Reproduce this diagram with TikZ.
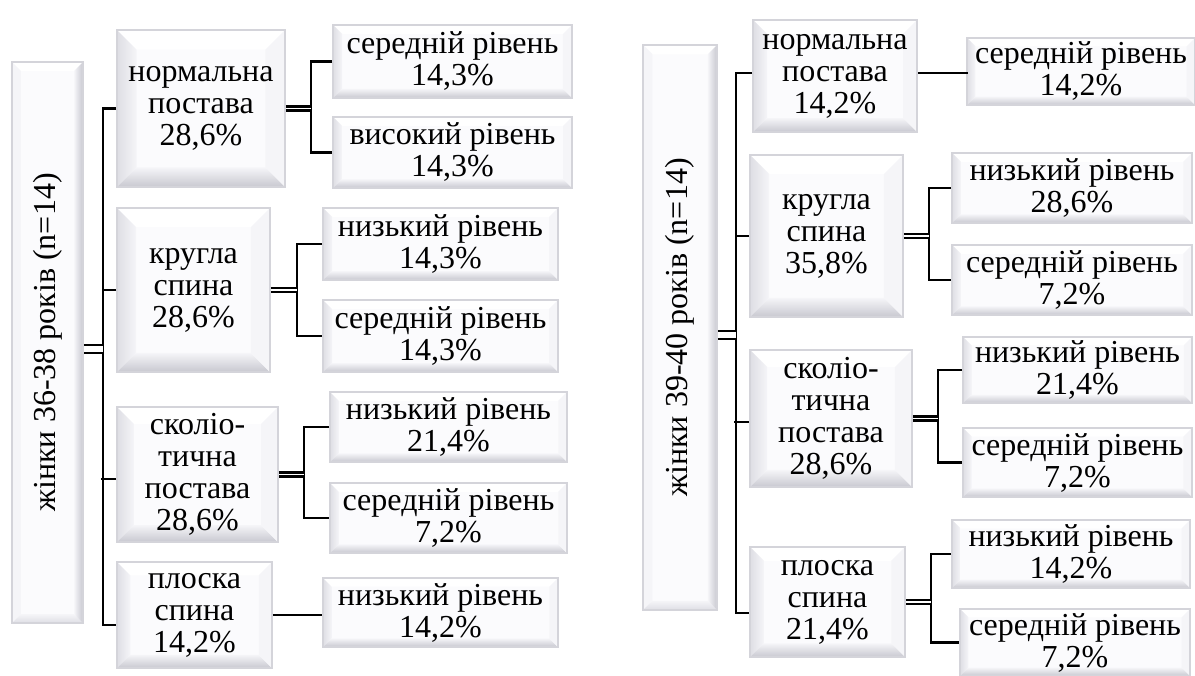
\documentclass[tikz,border=0pt]{standalone}
\usepackage{fontspec}
\setmainfont{Liberation Serif}
\usepackage{graphicx}
\usetikzlibrary{calc}

\definecolor{bvframe}{HTML}{D4D4DA}
\definecolor{bvface}{HTML}{FBFBFD}
\definecolor{bvdark}{HTML}{C8C8D0}
\definecolor{bvmid}{HTML}{DEDEE4}
\definecolor{bvlight}{HTML}{F5F5F8}

\tikzset{
  x=0.75pt, y=-0.75pt,
  boxbase/.style={draw=bvframe, line width=1.2pt, fill=bvface, inner sep=0pt,
    align=center, font=\fontsize{24}{24}\selectfont},
  % bevelled box: light top and left, shaded bottom
  bev/.style={boxbase, path picture={
    \path let \p1=(path picture bounding box.south west),
              \p2=(path picture bounding box.north east),
              \n1={0.125*min(\x2-\x1,\y2-\y1)} in
          coordinate (o1) at (\x1,\y1) coordinate (o2) at (\x2,\y2)
          coordinate (i1) at (\x1+\n1,\y1+\n1) coordinate (i2) at (\x2-\n1,\y2-\n1);
    \fill[white] (o1|-o2) -- (o2) -- (i2) -- (i1|-i2) -- cycle;
    \shade[left color=bvmid, right color=bvlight] (o1) -- (o1|-o2) -- (i1|-i2) -- (i1) -- cycle;
    \shade[top color=bvlight, bottom color=bvdark] (o1) -- (o2|-o1) -- (i2|-i1) -- (i1) -- cycle;
    \fill[bvlight] (o2|-o1) -- (o2) -- (i2) -- (i2|-i1) -- cycle;
  }},
  % upright box for the rotated group title: shaded right side
  rootbev/.style={boxbase, path picture={
    \path let \p1=(path picture bounding box.south west),
              \p2=(path picture bounding box.north east),
              \n1={0.125*min(\x2-\x1,\y2-\y1)} in
          coordinate (o1) at (\x1,\y1) coordinate (o2) at (\x2,\y2)
          coordinate (i1) at (\x1+\n1,\y1+\n1) coordinate (i2) at (\x2-\n1,\y2-\n1);
    \fill[white] (o1|-o2) -- (o2) -- (i2) -- (i1|-i2) -- cycle;
    \fill[bvlight] (o1) -- (o1|-o2) -- (i1|-i2) -- (i1) -- cycle;
    \shade[top color=bvlight, bottom color=bvmid] (o1) -- (o2|-o1) -- (i2|-i1) -- (i1) -- cycle;
    \shade[left color=bvlight, right color=bvdark] (o2|-o1) -- (o2) -- (i2) -- (i2|-i1) -- cycle;
  }},
  conn/.style={draw=black, line width=1.9pt},
  dbl/.style={draw=black, double=white, line width=1.7pt, double distance=1.4pt},
  dblroot/.style={draw=black, double=white, line width=1.9pt, double distance=4pt},
}

% box from pixel corners (x1,y1)-(x2,y2)
\newcommand\bvnode[7]{%
  \node[#1, minimum width={(#5-#3)*0.75pt}, minimum height={(#6-#4)*0.75pt}]
    (#2) at ({(#3+#5)/2},{(#4+#6)/2}) {#7};}

\begin{document}
\begin{tikzpicture}
\fill[white] (0,0) rectangle (1195,675);
\useasboundingbox (0,0) rectangle (1195,675);

% ---------- women 36-38 ----------
\bvnode{rootbev}{r1}{12}{62}{83}{623}{\rotatebox{90}{жінки 36-38 років (n=14)}}
\bvnode{bev}{A1}{117}{30}{285}{187}{нормальна\\постава\\28,6\%}
\bvnode{bev}{A2}{117}{208}{270}{372}{кругла\\спина\\28,6\%}
\bvnode{bev}{A3}{117}{407}{278}{542}{сколіо-\\тична\\постава\\28,6\%}
\bvnode{bev}{A4}{117}{562}{272}{668}{плоска\\спина\\14,2\%}

\bvnode{bev}{B1}{333}{25}{572}{98}{середній рівень\\14,3\%}
\bvnode{bev}{B2}{333}{117}{572}{188}{високий рівень\\14,3\%}
\bvnode{bev}{B3}{323}{208}{558}{280}{низький рівень\\14,3\%}
\bvnode{bev}{B4}{323}{300}{558}{372}{середній рівень\\14,3\%}
\bvnode{bev}{B5}{330}{392}{567}{462}{низький рівень\\21,4\%}
\bvnode{bev}{B6}{330}{483}{567}{553}{середній рівень\\7,2\%}
\bvnode{bev}{B7}{323}{578}{558}{647}{низький рівень\\14,2\%}

% bracket of the first group
\path ([yshift=-4.9pt]r1.east) ++(19,0) coordinate (kL);
\draw[conn] (A1.west) -| (kL) |- ([yshift=-7.5pt]A4.west);
\draw[conn] (A2.west) -- (A2.west -| kL);
\draw[conn] ([yshift=-3.4pt]A3.west) -- ++(-15,0);
\draw[dblroot] ([yshift=-4.9pt]r1.east) -- (kL);

\path (A1.east) ++(25,0) coordinate (kB12);
\draw[conn] (B1.west) -| (kB12) |- (B2.west);
\draw[dbl] (A1.east) -- (kB12);
\path (A2.east) ++(26,0) coordinate (kB34);
\draw[conn] (B3.west) -| (kB34) |- (B4.west);
\draw[dbl] (A2.east) -- (kB34);
\path (A3.east) ++(25,0) coordinate (kB56);
\draw[conn] (B5.west) -| (kB56) |- (B6.west);
\draw[dbl] (A3.east) -- (kB56);
\draw[conn] (A4.east) -- (A4.east -| B7.west);

% ---------- women 39-40 ----------
\bvnode{rootbev}{r2}{643}{45}{717}{610}{\rotatebox{90}{жінки 39-40 років (n=14)}}
\bvnode{bev}{C1}{753}{20}{917}{132}{нормальна\\постава\\14,2\%}
\bvnode{bev}{C2}{750}{155}{903}{317}{кругла\\спина\\35,8\%}
\bvnode{bev}{C3}{750}{350}{912}{487}{сколіо-\\тична\\постава\\28,6\%}
\bvnode{bev}{C4}{750}{547}{905}{657}{плоска\\спина\\21,4\%}

\bvnode{bev}{D1}{967}{38}{1195}{105}{середній рівень\\14,2\%}
\bvnode{bev}{D2}{952}{153}{1192}{223}{низький рівень\\28,6\%}
\bvnode{bev}{D3}{952}{245}{1192}{315}{середній рівень\\7,2\%}
\bvnode{bev}{D4}{963}{337}{1192}{403}{низький рівень\\21,4\%}
\bvnode{bev}{D5}{963}{428}{1192}{497}{середній рівень\\7,2\%}
\bvnode{bev}{D6}{952}{520}{1190}{588}{низький рівень\\14,2\%}
\bvnode{bev}{D7}{960}{609}{1190}{676}{середній рівень\\7,2\%}

% bracket of the second group
\path ([yshift=-5.6pt]r2.east) ++(18,0) coordinate (kR);
\draw[conn] ([yshift=2.25pt]C1.west) -| (kR) |- ([yshift=-8.25pt]C4.west);
\draw[conn] (C2.west) -- (C2.west -| kR);
\draw[conn] ([yshift=-2.6pt]C3.west) -- ++(-15,0);
\draw[dblroot] ([yshift=-5.6pt]r2.east) -- (kR);

\draw[conn] ([yshift=2.25pt]C1.east) -- ++(50,0);
\path (C2.east) ++(25,0) coordinate (kD23);
\draw[conn] (D2.west) -| (kD23) |- (D3.west);
\draw[dbl] (C2.east) -- (kD23);
\path (C3.east) ++(25,0) coordinate (kD45);
\draw[conn] (D4.west) -| (kD45) |- (D5.west);
\draw[dbl] (C3.east) -- (kD45);
\path (C4.east) ++(25,0) coordinate (kD67);
\draw[conn] (D6.west) -| (kD67) |- (D7.west);
\draw[dbl] (C4.east) -- (kD67);
\end{tikzpicture}
\end{document}
